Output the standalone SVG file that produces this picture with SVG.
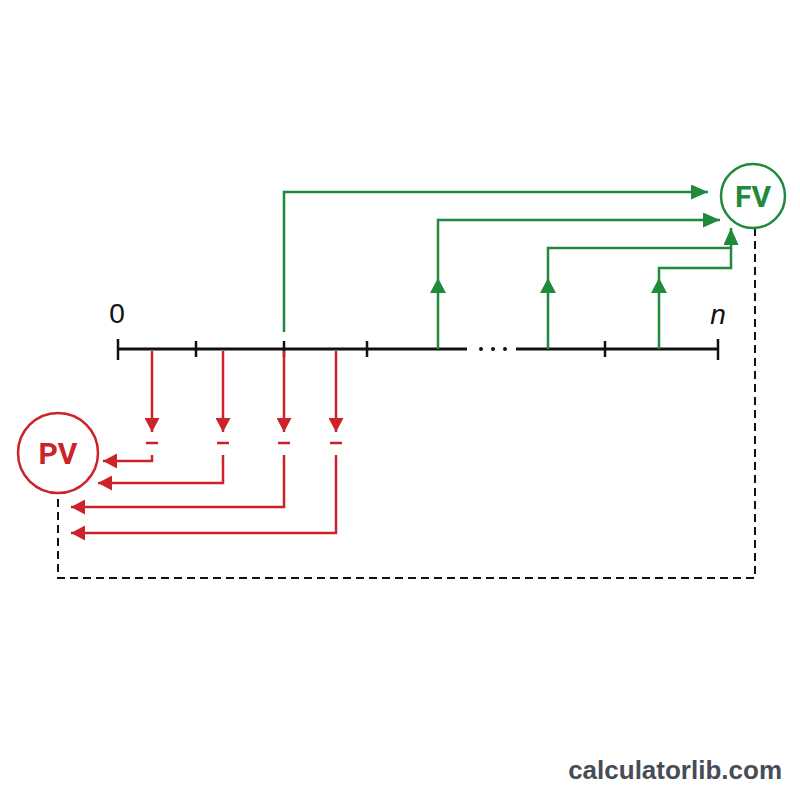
<svg xmlns="http://www.w3.org/2000/svg" width="800" height="800" viewBox="0 0 800 800">
<style>
.axis{stroke:#111;stroke-width:3;fill:none}
.tick{stroke:#111;stroke-width:2.5}
.g{stroke:#1f8a3b;stroke-width:2.5;fill:none}
.r{stroke:#cc2229;stroke-width:2.5;fill:none}
.gf{fill:#1f8a3b}
.rf{fill:#cc2229}
.dash{stroke:#111;stroke-width:2;fill:none;stroke-dasharray:8 5}
.lbl{font-family:"Liberation Sans",Arial,sans-serif;font-size:28px;fill:#111}
.big{font-family:Roboto,"Liberation Sans",Arial,sans-serif;font-weight:bold;font-size:30px;text-anchor:middle}
</style>
<defs>
<marker id="ag" markerUnits="userSpaceOnUse" markerWidth="17" markerHeight="15" refX="17" refY="7.5" orient="auto"><path d="M0,0 L17,7.5 L0,15 z" fill="#1f8a3b"/></marker>
<marker id="ar" markerUnits="userSpaceOnUse" markerWidth="14" markerHeight="15" refX="14" refY="7.5" orient="auto"><path d="M0,0 L14,7.5 L0,15 z" fill="#cc2229"/></marker>
<path id="upTri" d="M0,0 L8,15 L-8,15 z"/>
</defs>
<rect width="800" height="800" fill="#fff"/>
<g id="timeline">
<path class="axis" d="M118,349 H467 M516,349 H718"/>
<path class="tick" d="M118,339 V360 M196,341 V357 M284,341 V357 M367,341 V357 M605,341 V357 M718,339 V360"/>
<circle cx="481" cy="349" r="2" fill="#111"/>
<circle cx="493" cy="349" r="2" fill="#111"/>
<circle cx="505" cy="349" r="2" fill="#111"/>
<text class="lbl" x="117" y="323" text-anchor="middle">0</text>
<text class="lbl" x="718" y="324" text-anchor="middle" font-style="italic">n</text>
</g>
<g id="connectors">
<path class="g" d="M284,332 V192 H708" marker-end="url(#ag)"/>
<path class="g" d="M438,349 V220 H720" marker-end="url(#ag)"/>
<path class="g" d="M548,349 V248 H731 V228" marker-end="url(#ag)"/>
<path class="g" d="M659,349 V268 H731 V248"/>
<use href="#upTri" x="438" y="278" class="gf"/>
<use href="#upTri" x="548" y="278" class="gf"/>
<use href="#upTri" x="659" y="278" class="gf"/>
<path class="r" d="M152,351 V432" marker-end="url(#ar)"/>
<path class="r" d="M223,351 V432" marker-end="url(#ar)"/>
<path class="r" d="M284,351 V432" marker-end="url(#ar)"/>
<path class="r" d="M336,351 V432" marker-end="url(#ar)"/>
<path class="r" stroke-width="3" d="M146,443 H158 M217,443 H229 M278,443 H290 M330,443 H342"/>
<path class="r" d="M152,455 V461 H103" marker-end="url(#ar)"/>
<path class="r" d="M223,455 V483 H98" marker-end="url(#ar)"/>
<path class="r" d="M284,455 V507 H71" marker-end="url(#ar)"/>
<path class="r" d="M336,455 V533 H71" marker-end="url(#ar)"/>
<path class="dash" d="M755,228 V578 H58 V493"/>
</g>
<g id="FV">
<circle cx="753" cy="196" r="32" fill="#fff" stroke="#1f8a3b" stroke-width="2.5"/>
<text class="big" x="753" y="207" fill="#1f8a3b">FV</text>
</g>
<g id="PV">
<circle cx="58" cy="453" r="40" fill="#fff" stroke="#cc2229" stroke-width="2.5"/>
<text class="big" x="58" y="464" fill="#cc2229">PV</text>
</g>
<text x="782" y="779" text-anchor="end" font-family="Liberation Sans,Arial,sans-serif" font-weight="bold" font-size="26" fill="#474c57">calculatorlib.com</text>
</svg>
